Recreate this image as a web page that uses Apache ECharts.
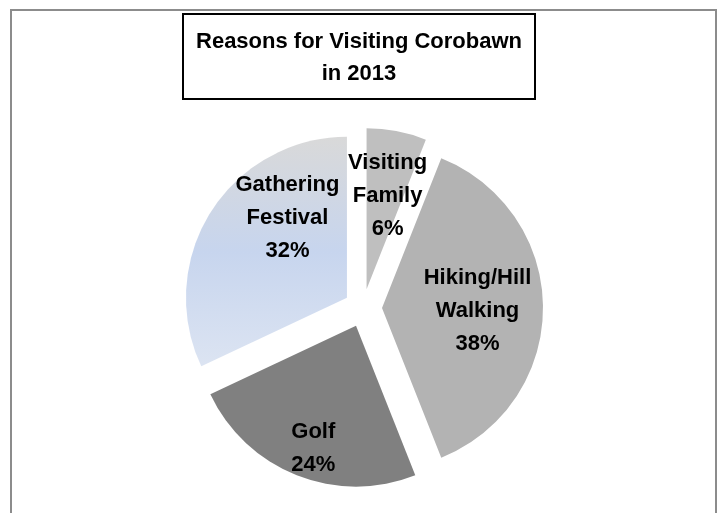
<!DOCTYPE html>
<html>
<head>
    <meta charset="utf-8">
    <title>Reasons for Visiting Corobawn</title>
    <script src="https://cdn.jsdelivr.net/npm/echarts@6/dist/echarts.min.js"></script>
    <style>
        html, body {margin: 0; padding: 0; background: #fff;}
        #chart {width: 718px; height: 513px;}
    </style>
</head>
<body>
<div id="chart"></div>
<script>
    // chart data
    var reasons = ['Visiting Family', 'Hiking/Hill Walking', 'Golf', 'Gathering Festival'];
    var shares = [6, 38, 24, 32];

    // slice looks, by reason
    var fills = {
        'Visiting Family': '#bfbfbf',
        'Hiking/Hill Walking': '#b3b3b3',
        'Golf': '#808080',
        'Gathering Festival': new echarts.graphic.LinearGradient(0, 0, 0, 1, [
            {offset: 0, color: '#d9d9d9'},
            {offset: 0.5, color: '#c7d5ee'},
            {offset: 1, color: '#dce4f2'}
        ])
    };
    // nudge labels to where Excel put them
    // (the small slice uses 'center' so echarts doesn't hide its overflowing label)
    var labelPos = {
        'Visiting Family': 'center',
        'Hiking/Hill Walking': 'inside',
        'Golf': 'inside',
        'Gathering Festival': 'inside'
    };
    var labelShift = {
        'Visiting Family': [21, -93],
        'Hiking/Hill Walking': [12, 3],
        'Golf': [-12, 45],
        'Gathering Festival': [11, -35]
    };

    var chart = echarts.init(document.getElementById('chart'));

    var option = {
        animation: false,
        title: {
            text: 'Reasons for Visiting Corobawn\nin 2013',
            left: 'center',
            top: 14,
            padding: [12, 13, 9, 13],
            borderColor: '#000',
            borderWidth: 2,
            textStyle: {
                fontFamily: 'Liberation Sans',
                fontSize: 22,
                fontWeight: 'bold',
                color: '#000',
                lineHeight: 32
            }
        },
        graphic: [{
            type: 'rect',
            shape: {x: 11, y: 10, width: 705, height: 530},
            style: {fill: 'none', stroke: '#8c8c8c', lineWidth: 2},
            silent: true
        }],
        series: [{
            type: 'pie',
            center: [363, 308],
            radius: 161,
            startAngle: 90,
            clockwise: true,
            selectedMode: 'multiple',
            selectedOffset: 19,
            emphasis: {disabled: true},
            label: {
                position: 'inside',
                fontFamily: 'Liberation Sans',
                fontSize: 22,
                fontWeight: 'bold',
                color: '#000',
                lineHeight: 33,
                formatter: function (p) {
                    return p.name.replace(' ', '\n') + '\n' + p.value + '%';
                }
            },
            labelLine: {show: false},
            labelLayout: function (p) {
                var s = labelShift[reasons[p.dataIndex]];
                return {dx: s[0], dy: s[1]};
            },
            data: reasons.map(function (name, i) {
                return {
                    name: name,
                    value: shares[i],
                    selected: true,
                    itemStyle: {color: fills[name]},
                    label: {position: labelPos[name]}
                };
            })
        }]
    };

    chart.setOption(option);
</script>
</body>
</html>
